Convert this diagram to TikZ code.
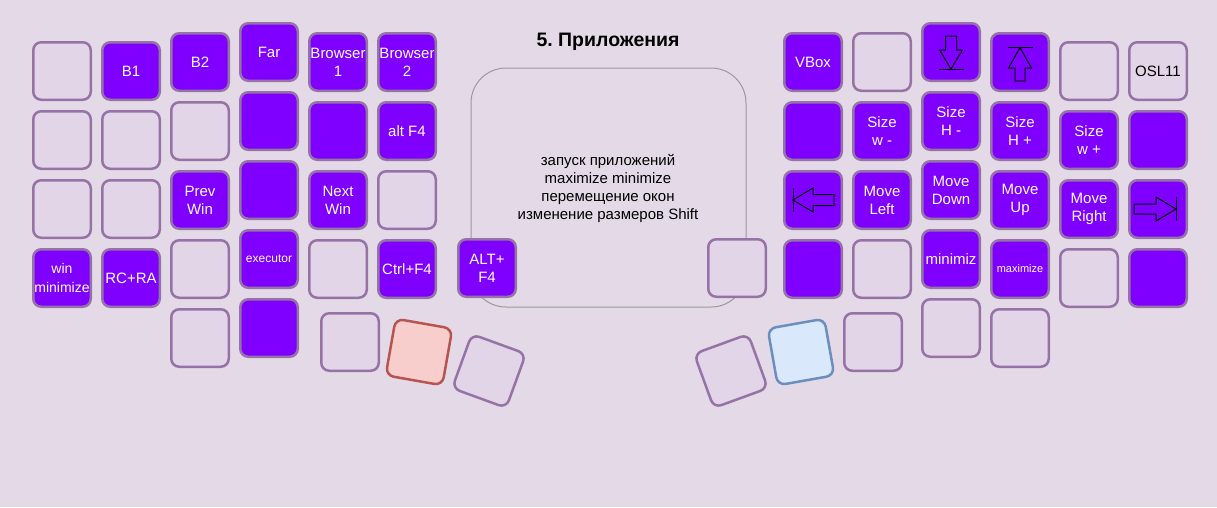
\documentclass[tikz,border=0pt]{standalone}
\usepackage{fontspec}
\setmainfont{Liberation Sans}
\frenchspacing
\definecolor{bg}{HTML}{E4DAE7}
\definecolor{kfill}{HTML}{E1D5E7}
\definecolor{kdraw}{HTML}{9673A6}
\definecolor{kpurple}{HTML}{8000FF}
\definecolor{rfill}{HTML}{F8CECC}
\definecolor{rdraw}{HTML}{B85450}
\definecolor{bfill}{HTML}{DAE8FC}
\definecolor{bdraw}{HTML}{6C8EBF}
\definecolor{boxline}{HTML}{9A9A9A}
\tikzset{
  key/.style={rectangle, minimum width=57.5pt, minimum height=57.5pt, rounded corners=8pt,
    line width=2.5pt, draw=kdraw, fill=kfill, inner sep=0pt, align=center,
    font=\fontsize{15}{18}\selectfont},
  pkey/.style={key, fill=kpurple, text=white},
  rkey/.style={key, fill=rfill, draw=rdraw},
  bkey/.style={key, fill=bfill, draw=bdraw},
  small/.style={font=\fontsize{12}{14}\selectfont},
  tiny/.style={font=\fontsize{11}{13}\selectfont},
  arrowline/.style={draw=black, line width=1pt, line join=miter},
}
\begin{document}
\begin{tikzpicture}[x=1pt, y=-1pt]
\fill[bg] (0,0) rectangle (1217,507);
\useasboundingbox (0,0) rectangle (1217,507);

% centre panel
\draw[boxline, line width=1pt, rounded corners=35pt] (471,68) rectangle (746,307);
\node[font=\bfseries\fontsize{19.5}{22}\selectfont] (title) at (608,42) {5. Приложения};
\node[align=center, font=\fontsize{15}{18}\selectfont] (desc) at (608,188.5)
  {запуск приложений\\maximize minimize\\перемещение окон\\изменение размеров Shift};

% left half
\node[key]  (L00) at (62,71) {};
\node[key]  (L01) at (62,140) {};
\node[key]  (L02) at (62,209) {};
\node[pkey, font=\fontsize{14}{19}\selectfont] (L03) at (62,278) {win\\minimize};

\node[pkey] (L10) at (131,71) {B1};
\node[key]  (L11) at (131,140) {};
\node[key]  (L12) at (131,209) {};
\node[pkey] (L13) at (131,278) {RC+RA};

\node[pkey] (L20) at (200,62) {B2};
\node[key]  (L21) at (200,131) {};
\node[pkey] (L22) at (200,200) {Prev\\Win};
\node[key]  (L23) at (200,269) {};
\node[key]  (L24) at (200,338) {};

\node[pkey] (L30) at (269,52) {Far};
\node[pkey] (L31) at (269,121) {};
\node[pkey] (L32) at (269,190) {};
\node[pkey, small] (L33) at (269,259) {executor};
\node[pkey] (L34) at (269,328) {};

\node[pkey] (L40) at (338,62) {Browser\\1};
\node[pkey] (L41) at (338,131) {};
\node[pkey] (L42) at (338,200) {Next\\Win};
\node[key]  (L43) at (338,269) {};

\node[pkey] (L50) at (407,62) {Browser\\2};
\node[pkey] (L51) at (407,131) {alt F4};
\node[key]  (L52) at (407,200) {};
\node[pkey] (L53) at (407,269) {Ctrl+F4};

\node[pkey] (LA) at (487,268) {ALT+\\F4};
\node[key]  (LT1) at (350,342) {};
\node[rkey, rotate=-10] (LT2) at (419,352) {};
\node[key,  rotate=-20] (LT3) at (489,371) {};

% right half
\node[key]  (RA) at (737,268) {};

\node[pkey] (R60) at (813,62) {VBox};
\node[pkey] (R61) at (813,131) {};
\node[pkey] (R62) at (813,200) {};
\node[pkey] (R63) at (813,269) {};

\node[key]  (R70) at (882,62) {};
\node[pkey] (R71) at (882,131) {Size\\w -};
\node[pkey] (R72) at (882,200) {Move\\Left};
\node[key]  (R73) at (882,269) {};

\node[pkey] (R80) at (951,52) {};
\node[pkey] (R81) at (951,121) {Size\\H -};
\node[pkey] (R82) at (951,190) {Move\\Down};
\node[pkey] (R83) at (951,259) {minimiz};
\node[key]  (R84) at (951,328) {};

\node[pkey] (R90) at (1020,62) {};
\node[pkey] (R91) at (1020,131) {Size\\H +};
\node[pkey] (R92) at (1020,200) {Move\\Up};
\node[pkey, tiny] (R93) at (1020,269) {maximize};
\node[key]  (R94) at (1020,338) {};

\node[key]  (R100) at (1089,71) {};
\node[pkey] (R101) at (1089,140) {Size\\w +};
\node[pkey] (R102) at (1089,209) {Move\\Right};
\node[key]  (R103) at (1089,278) {};

\node[key]  (R110) at (1158,71) {OSL11};
\node[pkey] (R111) at (1158,140) {};
\node[pkey] (R112) at (1158,209) {};
\node[pkey] (R113) at (1158,278) {};

\node[key]  (RT1) at (873,342) {};
\node[bkey, rotate=10] (RT2) at (801,352) {};
\node[key,  rotate=20] (RT3) at (731,371) {};

% arrow glyphs
\begin{scope}[shift={(R80.center)}]
  \draw[arrowline] (-5.5,-16) -- (5.5,-16) -- (5.5,-2) -- (11.5,-2) -- (0,17) -- (-11.5,-2) -- (-5.5,-2) -- cycle;
  \draw[arrowline] (-12.5,17) -- (12.5,17);
\end{scope}
\begin{scope}[shift={(R90.center)}]
  \draw[arrowline] (-5,19) -- (5,19) -- (5,6) -- (11.5,6) -- (0,-14.5) -- (-11.5,6) -- (-5,6) -- cycle;
  \draw[arrowline] (-12.5,-14.5) -- (12.5,-14.5);
\end{scope}
\begin{scope}[shift={(R62.center)}]
  \draw[arrowline] (21,-5.5) -- (21,5.5) -- (0,5.5) -- (0,12) -- (-20,0) -- (0,-12) -- (0,-5.5) -- cycle;
  \draw[arrowline] (-20,-12) -- (-20,12);
\end{scope}
\begin{scope}[shift={(R112.center)}]
  \draw[arrowline] (-24,-5) -- (-24,5) -- (-2,5) -- (-2,12) -- (18,0) -- (-2,-12) -- (-2,-5) -- cycle;
  \draw[arrowline] (18,-12) -- (18,12);
\end{scope}
\end{tikzpicture}
\end{document}
